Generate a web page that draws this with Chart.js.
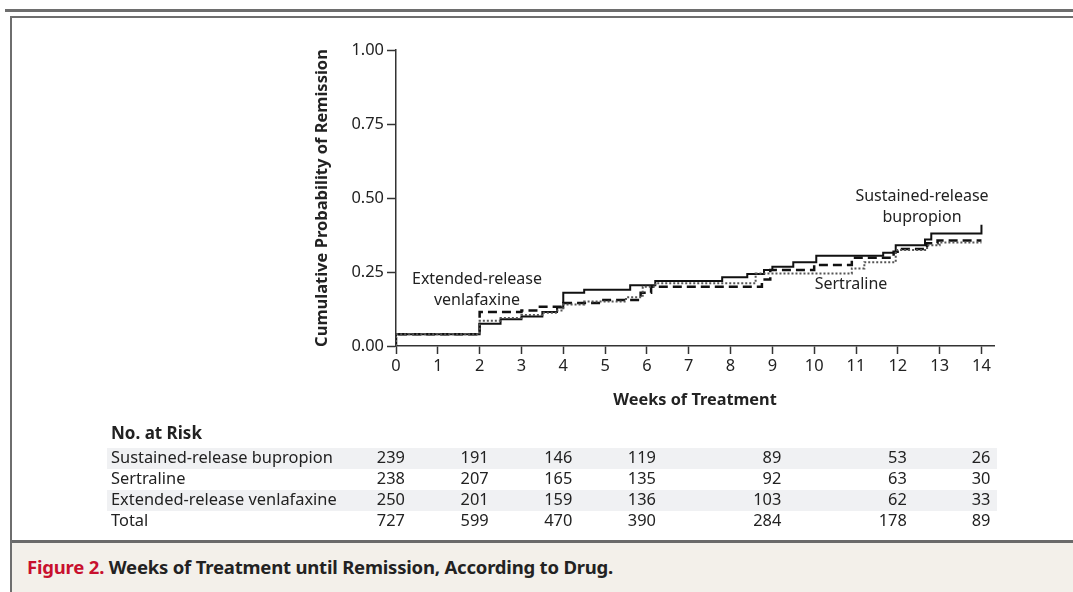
<!DOCTYPE html>
<html>
<head>
<meta charset="utf-8">
<script src="https://cdn.jsdelivr.net/npm/chart.js@4/dist/chart.umd.min.js"></script>
<style>
  html, body { margin: 0; padding: 0; background: #fff; }
  body { width: 1073px; height: 592px; position: relative; overflow: hidden; font-family: "Noto Sans", sans-serif; }
  .topline { position: absolute; left: 5px; right: 0; top: 9px; height: 3px; background: #6e6e6e; }
  .frame { position: absolute; left: 10px; right: -5px; top: 16px; bottom: -5px; border: 2px solid #6e6e6e; border-right: none; border-bottom: none; }
  .caption { position: absolute; left: 12px; right: 0; top: 540px; bottom: 0; background: #f3f0ea; border-top: 3px solid #6a6a6a; }
  .caption p { margin: 0; position: absolute; left: 15px; top: 11px; font: bold 18.5px "Noto Sans", sans-serif; color: #222; letter-spacing: -0.2px; }
  .caption span { color: #c8102e; }
  #chart { position: absolute; left: 0; top: 0; }
</style>
</head>
<body>
<div class="topline"></div>
<div class="frame"></div>
<canvas id="chart" width="1073" height="540"></canvas>
<div class="caption"><p><span>Figure 2.</span> Weeks of Treatment until Remission, According to Drug.</p></div>
<script>
// Kaplan-Meier steps: value holds from that week on
const bupropionWeeks = [0, 0, 2, 2.5, 3.0, 3.5, 3.85, 4.0, 4.5, 5.6, 6.2, 7.8, 8.4, 8.8, 9.0, 9.5, 10.05, 11.65, 11.95, 12.65, 12.8, 14.0, 14.0];
const bupropionProb  = [0, 0.04, 0.075, 0.09, 0.10, 0.115, 0.13, 0.18, 0.19, 0.205, 0.22, 0.232, 0.243, 0.257, 0.268, 0.283, 0.305, 0.315, 0.34, 0.36, 0.38, 0.38, 0.41];

const sertralineWeeks = [0, 0, 2, 2.5, 3.0, 3.5, 3.85, 4.0, 4.5, 5.5, 5.9, 6.2, 8.6, 10.9, 11.2, 11.95, 12.7, 13.0, 14.0];
const sertralineProb  = [0, 0.04, 0.085, 0.095, 0.105, 0.112, 0.12, 0.14, 0.15, 0.165, 0.2, 0.212, 0.245, 0.262, 0.283, 0.324, 0.34, 0.35, 0.35];

const venlafaxineWeeks = [0, 0, 2, 3.0, 3.4, 4.0, 4.9, 5.85, 6.1, 8.75, 8.95, 10.0, 10.9, 11.9, 12.1, 12.7, 12.95, 14.0];
const venlafaxineProb  = [0, 0.04, 0.115, 0.12, 0.133, 0.145, 0.155, 0.18, 0.2, 0.225, 0.257, 0.274, 0.298, 0.318, 0.328, 0.347, 0.356, 0.356];

const xTicks = [0, 1, 2, 3, 4, 5, 6, 7, 8, 9, 10, 11, 12, 13, 14];
const yTicks = [0, 0.25, 0.5, 0.75, 1.0];

// number at risk table
const riskWeeks = [0, 2, 4, 6, 9, 12, 14];
const riskLabels = ['Sustained-release bupropion', 'Sertraline', 'Extended-release venlafaxine', 'Total'];
const bupropionRisk = [239, 191, 146, 119, 89, 53, 26];
const sertralineRisk = [238, 207, 165, 135, 92, 63, 30];
const venlafaxineRisk = [250, 201, 159, 136, 103, 62, 33];
const totalRisk = [727, 599, 470, 390, 284, 178, 89];

function pts(xs, ys) {
    return xs.map((x, i) => ({ x: x, y: ys[i] }));
}

const tablePlugin = {
    id: 'tabela',
    beforeDraw(chart) {
        const c = chart.ctx;
        c.save();
        c.fillStyle = '#f0f1f3';
        c.fillRect(107, 448, 890, 21);
        c.fillRect(107, 490, 890, 21);
        c.restore();
    },
    afterDraw(chart) {
        const c = chart.ctx;
        const x = chart.scales.x;
        const rows = [bupropionRisk, sertralineRisk, venlafaxineRisk, totalRisk];
        const rowY = [458, 479, 500, 521];
        c.save();
        c.fillStyle = '#222';
        c.textBaseline = 'middle';
        c.font = 'bold 17px "Noto Sans"';
        c.textAlign = 'left';
        c.fillText('No. at Risk', 111, 434);
        c.font = '16.4px "Noto Sans"';
        rows.forEach((r, i) => {
            c.textAlign = 'left';
            c.fillText(riskLabels[i], 111, rowY[i]);
            c.textAlign = 'right';
            r.forEach((n, j) => {
                c.fillText(String(n), x.getPixelForValue(riskWeeks[j]) + 9, rowY[i]);
            });
        });

        // curve labels
        c.textAlign = 'center';
        c.fillStyle = '#222';
        c.font = '16px "Noto Sans"';
        c.fillText('Extended-release', 477, 279);
        c.fillText('venlafaxine', 477, 300);
        c.fillText('Sustained-release', 922, 196);
        c.fillText('bupropion', 922, 217);
        c.fillText('Sertraline', 851, 284);
        c.restore();
    }
};

const ctx = document.getElementById('chart').getContext('2d');

new Chart(ctx, {
    type: 'line',
    data: {
        datasets: [
            {
                label: 'Sertraline',
                data: pts(sertralineWeeks, sertralineProb),
                borderColor: '#555',
                borderWidth: 2,
                borderDash: [2, 2],
                stepped: true,
                pointRadius: 0,
                fill: false
            },
            {
                label: 'Extended-release venlafaxine',
                data: pts(venlafaxineWeeks, venlafaxineProb),
                borderColor: '#111',
                borderWidth: 2.5,
                borderDash: [9, 5],
                stepped: true,
                pointRadius: 0,
                fill: false
            },
            {
                label: 'Sustained-release bupropion',
                data: pts(bupropionWeeks, bupropionProb),
                borderColor: '#111',
                borderWidth: 2,
                stepped: true,
                pointRadius: 0,
                fill: false
            }
        ]
    },
    options: {
        responsive: false,
        animation: false,
        layout: { padding: { left: 312, right: 79, top: 50, bottom: 130 } },
        plugins: {
            legend: { display: false },
            tooltip: { enabled: false }
        },
        scales: {
            x: {
                type: 'linear',
                min: 0,
                max: 14.3,
                afterBuildTicks: s => { s.ticks = xTicks.map(v => ({ value: v })); },
                afterFit: s => { s.height = 64; },
                border: { color: '#333', width: 1.5 },
                grid: { drawOnChartArea: false, tickLength: 8, tickColor: '#333', tickWidth: 1.5 },
                ticks: { color: '#222', font: { family: 'Noto Sans', size: 16.4 }, padding: 2, maxRotation: 0 },
                title: { display: true, text: 'Weeks of Treatment', color: '#222', font: { family: 'Noto Sans', size: 16.3, weight: 'bold' }, padding: 0 }
            },
            y: {
                min: 0,
                max: 1,
                afterBuildTicks: s => { s.ticks = yTicks.map(v => ({ value: v })); },
                afterFit: s => { s.width = 84; },
                border: { color: '#333', width: 1.5 },
                grid: { drawOnChartArea: false, tickLength: 9, tickColor: '#333', tickWidth: 1.5 },
                ticks: { color: '#222', font: { family: 'Noto Sans', size: 16.4 }, padding: 3, callback: v => v.toFixed(2) },
                title: { display: true, text: 'Cumulative Probability of Remission', color: '#222', font: { family: 'Noto Sans', size: 16.5, weight: 'bold' }, padding: 0 }
            }
        }
    },
    plugins: [tablePlugin]
});
</script>
</body>
</html>
